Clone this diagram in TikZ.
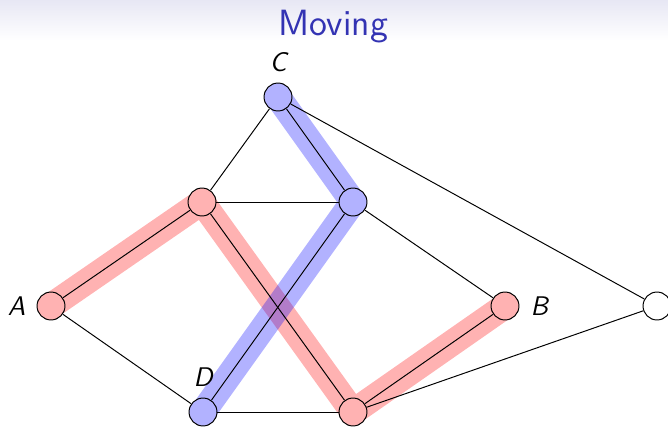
\documentclass[tikz,border=0pt]{standalone}
\usetikzlibrary{backgrounds}
\definecolor{titleblue}{RGB}{51,51,179}
\definecolor{titletop}{RGB}{231,231,244}

\tikzstyle{vertex} = [circle, draw, fill=white, minimum size=11.4pt, inner sep=0pt]
\tikzstyle{redvertex} = [vertex, fill=red!30]
\tikzstyle{bluevertex} = [vertex, fill=blue!30]
\tikzstyle{redpath} = [red, opacity=0.3, line width=10.6pt, line join=round]
\tikzstyle{bluepath} = [blue, opacity=0.3, line width=10.6pt, line join=round]
\tikzstyle{lbl} = [font=\fontsize{11}{13.6}\selectfont\sffamily\itshape]

\begin{document}
\begin{tikzpicture}[x=0.408pt, y=-0.408pt, label distance=1pt]
\useasboundingbox (0,0) rectangle (668,429);
\shade[top color=titletop, bottom color=white] (0,0) rectangle (668,40);
\node[titleblue, font=\fontsize{14.9}{18}\selectfont\sffamily, anchor=base] (title) at (333,35) {Moving};

% the graph
\node[redvertex, label={[lbl]left:A}] (a) at (51,306) {};
\node[redvertex] (p) at (202,202) {};
\node[bluevertex] (q) at (353,202) {};
\node[bluevertex, label={[lbl]above:C}] (c) at (278,97) {};
\node[redvertex, label={[lbl]right:B}] (b) at (505,306) {};
\node[vertex] (e) at (657,306) {};
\node[bluevertex, label={[lbl]above:D}] (d) at (203,412) {};
\node[redvertex] (f) at (353,412) {};

% moving paths
\begin{scope}[on background layer]
\draw[redpath] (a.center) -- (p.center) -- (f.center) -- (b.center);
\draw[bluepath] (c.center) -- (q.center) -- (d.center);
\end{scope}

\draw (a) -- (p);
\draw (a) -- (d);
\draw (p) -- (c);
\draw (p) -- (q);
\draw (p) -- (f);
\draw (c) -- (q);
\draw (c) -- (e);
\draw (q) -- (d);
\draw (q) -- (b);
\draw (d) -- (f);
\draw (f) -- (b);
\draw (f) -- (e);
\end{tikzpicture}
\end{document}
